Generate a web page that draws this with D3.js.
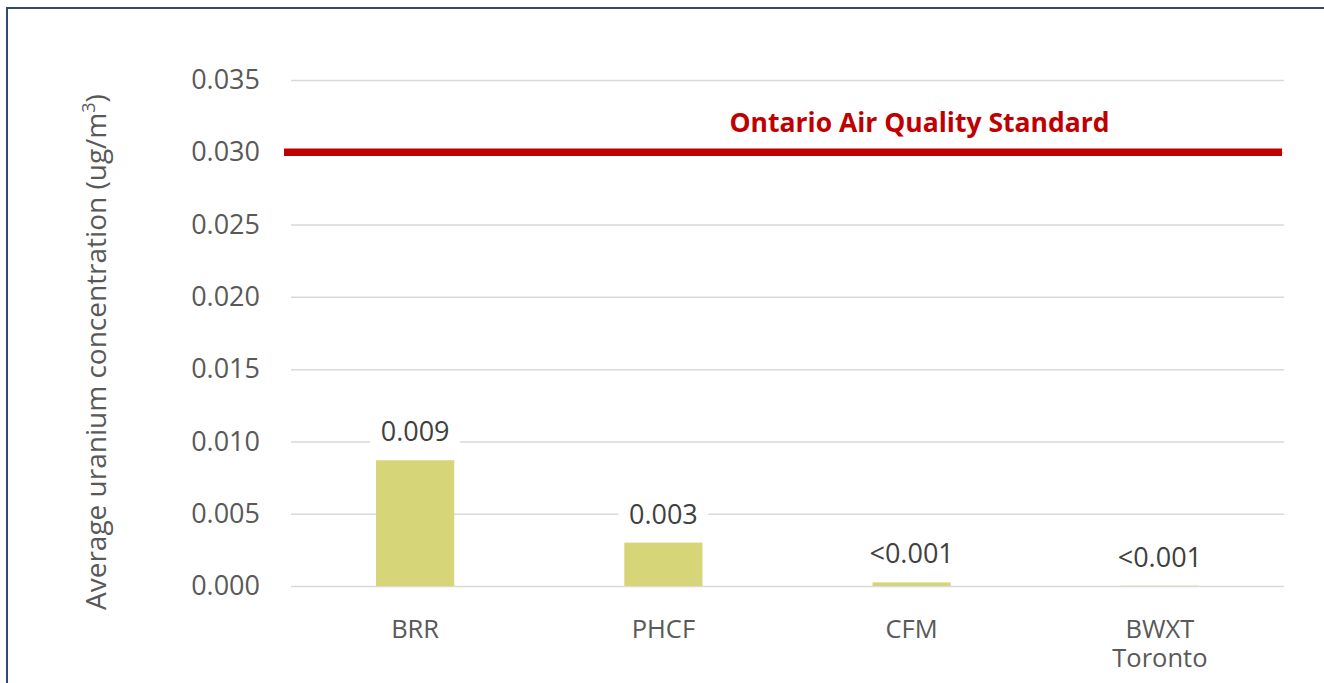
<!DOCTYPE html>
<html>
<head>
<meta charset="utf-8">
<script src="https://cdn.jsdelivr.net/npm/d3@7"></script>
<style>
  body { margin: 0; background: #fff; }
  svg { display: block; font-family: "Open Sans", sans-serif; }
</style>
</head>
<body>
<script>
const categories = ["BRR", "PHCF", "CFM", "BWXT\nToronto"];
const values = [0.0087, 0.003, 0.00025, 0.00002];
const valueLabels = ["0.009", "0.003", "<0.001", "<0.001"];
const yTicks = [0, 0.005, 0.01, 0.015, 0.02, 0.025, 0.03, 0.035];
const standard = 0.03;
const standardLabel = "Ontario Air Quality Standard";

const width = 1324, height = 683;
const margin = { top: 80, right: 40, bottom: 97, left: 291 };

const svg = d3.select("body")
    .append("svg")
    .attr("width", width)
    .attr("height", height);

// chart frame
svg.append("rect")
    .attr("x", 7)
    .attr("y", 8)
    .attr("width", width)
    .attr("height", height)
    .attr("fill", "none")
    .attr("stroke", "#2f4a6f")
    .attr("stroke-width", 2);

const x = d3.scaleBand()
    .domain(categories)
    .range([margin.left, width - margin.right])
    .paddingInner(0.685)
    .paddingOuter(0.3425);

const y = d3.scaleLinear()
    .domain([0, 0.035])
    .range([height - margin.bottom, margin.top]);

// gridlines + tick labels
const yAxis = svg.append("g")
    .attr("transform", "translate(" + margin.left + ",0)")
    .call(d3.axisLeft(y)
        .tickValues(yTicks)
        .tickFormat(d3.format(".3f"))
        .tickSize(-(width - margin.right - margin.left))
        .tickPadding(31));
yAxis.select(".domain").remove();
yAxis.selectAll(".tick line")
    .attr("stroke", "#d9d9d9")
    .attr("stroke-width", 1.5);
yAxis.selectAll(".tick text")
    .attr("fill", "#595959")
    .attr("font-size", "27px")
    .attr("font-family", "Open Sans, sans-serif");

// axis title
svg.append("text")
    .attr("transform", "translate(106," + (y(0) + 24) + ") rotate(-90)")
    .attr("text-anchor", "start")
    .attr("fill", "#595959")
    .style("font-size", "28px")
    .text("Average uranium concentration (ug/m")
    .append("tspan")
    .attr("dy", -11)
    .style("font-size", "18px")
    .text("3")
    .append("tspan")
    .attr("dy", 11)
    .style("font-size", "28px")
    .text(")");

// bars
svg.append("g")
    .selectAll("rect")
    .data(values)
    .join("rect")
    .attr("x", (d, i) => x(categories[i]))
    .attr("y", d => y(d))
    .attr("width", x.bandwidth())
    .attr("height", d => y(0) - y(d))
    .attr("fill", "#d6d577");

// value labels with white box over gridlines
const labels = svg.append("g")
    .selectAll("g")
    .data(values)
    .join("g")
    .attr("transform", (d, i) => "translate(" + (x(categories[i]) + x.bandwidth() / 2) + "," + (y(d) - 19) + ")");
labels.append("rect")
    .attr("x", -45)
    .attr("y", -26)
    .attr("width", 90)
    .attr("height", 32)
    .attr("fill", "#fff");
labels.append("text")
    .attr("text-anchor", "middle")
    .attr("fill", "#404040")
    .style("font-size", "27px")
    .text((d, i) => valueLabels[i]);

// category labels
const cat = svg.append("g")
    .selectAll("text")
    .data(categories)
    .join("text")
    .attr("x", d => x(d) + x.bandwidth() / 2)
    .attr("y", y(0) + 52)
    .attr("text-anchor", "middle")
    .attr("fill", "#595959")
    .style("font-size", "25.5px");
cat.selectAll("tspan")
    .data(d => d.split("\n"))
    .join("tspan")
    .attr("x", function () { return d3.select(this.parentNode).attr("x"); })
    .attr("dy", (d, i) => i === 0 ? 0 : 29)
    .text(d => d);

// standard line
svg.append("line")
    .attr("x1", margin.left - 7)
    .attr("x2", width - margin.right - 2)
    .attr("y1", y(standard))
    .attr("y2", y(standard))
    .attr("stroke", "#c00000")
    .attr("stroke-width", 7.5);

svg.append("text")
    .attr("x", (margin.left + width - margin.right) / 2 + 132)
    .attr("y", y(standard) - 20)
    .attr("text-anchor", "middle")
    .attr("fill", "#c00000")
    .attr("font-weight", "bold")
    .style("font-size", "26.5px")
    .text(standardLabel);
</script>
</body>
</html>
